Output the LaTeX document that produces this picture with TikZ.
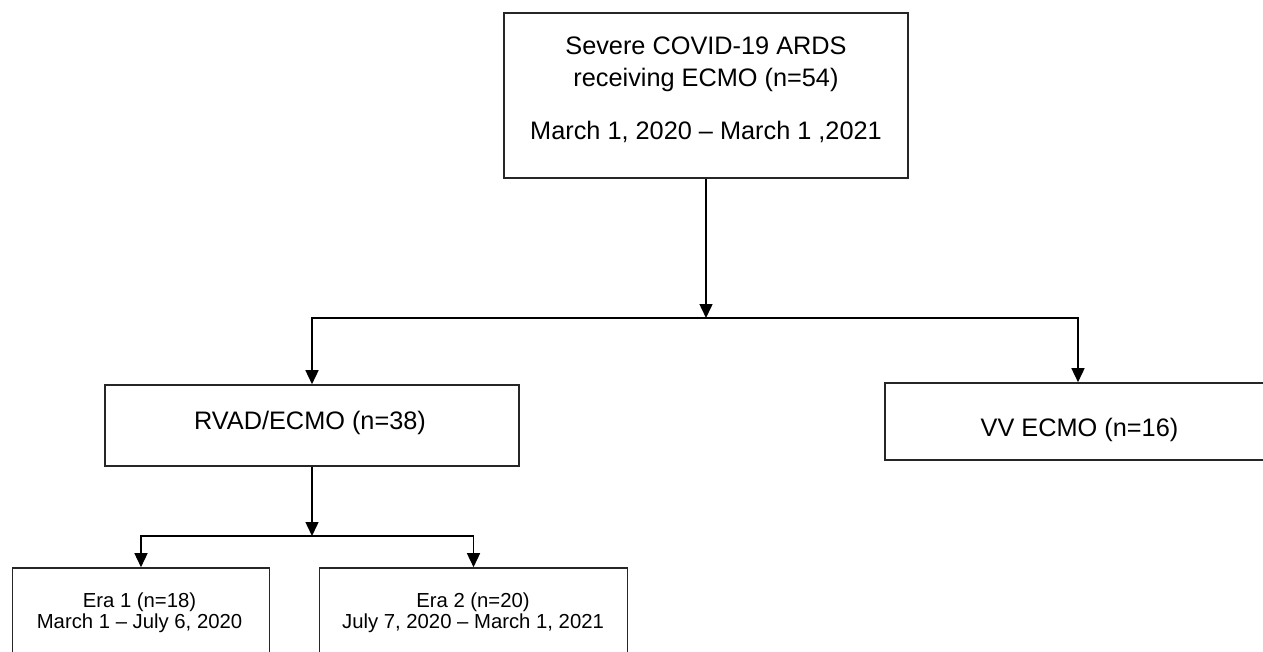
\documentclass[tikz,border=0pt]{standalone}
\usepackage{fontspec}
\setmainfont{Liberation Sans}
\usetikzlibrary{arrows.meta}
\begin{document}
\begin{tikzpicture}[x=1pt,y=-1pt,
  box/.style={draw=black!85, line width=1.6pt, rectangle, inner sep=0pt},
  bigtxt/.style={anchor=base, inner sep=0pt, font=\fontsize{25.3}{30}\selectfont},
  smalltxt/.style={anchor=base, inner sep=0pt, font=\fontsize{20.3}{21}\selectfont},
  arr/.style={line width=1.5pt, -{Triangle[length=14pt,width=13pt]}},
  conn/.style={line width=1.5pt}
]
\useasboundingbox (0,0) rectangle (1263,652);
\clip (0,0) rectangle (1263,652);

% boxes
\node[box, minimum width=404pt, minimum height=165pt] (top) at (706,95.5) {};
\node[box, minimum width=414pt, minimum height=81pt] (rvad) at (312,425.5) {};
\node[box, minimum width=386pt, minimum height=77pt] (vv) at (1078,421.5) {};
\node[box, minimum width=257pt, minimum height=92pt] (era1) at (141,614) {};
\node[box, minimum width=308pt, minimum height=92pt] (era2) at (473.5,614) {};

% texts
\node[bigtxt] (t1) at (706,55) {Severe COVID-19 ARDS};
\node[bigtxt] (t2) at (706,87) {receiving ECMO (n=54)};
\node[bigtxt] (t3) at (706,140) {March 1, 2020 – March 1 ,2021};
\node[bigtxt] (t4) at (310,429) {RVAD/ECMO (n=38)};
\node[bigtxt] (t5) at (1079.5,436) {VV ECMO (n=16)};
\node[smalltxt] (t6) at (139.5,607) {Era 1 (n=18)};
\node[smalltxt] (t7) at (139.5,628) {March 1 – July 6, 2020};
\node[smalltxt] (t8) at (473,607) {Era 2 (n=20)};
\node[smalltxt] (t9) at (473,628) {July 7, 2020 – March 1, 2021};

% connectors
\coordinate (hub1) at (706,318);
\coordinate (hub2) at (312,536);
\draw[arr] (top.south) -- (hub1);
\draw[conn] (rvad.north |- hub1) -- (vv.north |- hub1);
\draw[arr] (hub1) -| (rvad.north);
\draw[arr] (hub1) -| (vv.north);
\draw[arr] (rvad.south) -- (hub2);
\draw[conn] (era1.north |- hub2) -- (era2.north |- hub2);
\draw[arr] (hub2) -| (era1.north);
\draw[arr] (hub2) -| (era2.north);
\end{tikzpicture}
\end{document}
